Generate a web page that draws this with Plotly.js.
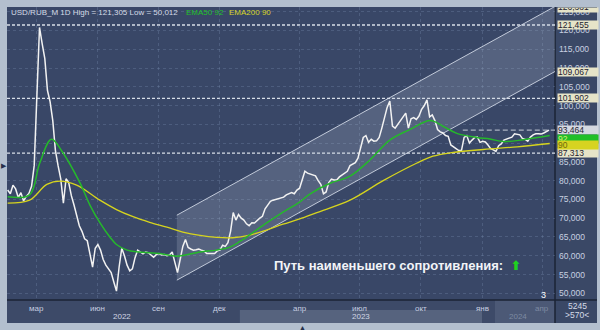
<!DOCTYPE html>
<html><head><meta charset="utf-8">
<script src="https://cdn.plot.ly/plotly-3.0.1.min.js"></script>
<style>html,body{margin:0;padding:0;background:#b3bfce;overflow:hidden}#chart{width:600px;height:330px}</style>
</head><body><div id="chart"></div>
<script>
// ---------- data ----------
const symbol = 'USD/RUB_M 1D';
const highValue = '121,305';
const lowValue = '50,012';
const priceStart = '2022-01-16';
const priceStepDays = 4;
const priceClose = [
77.5,76.5,78.8,77.8,75.5,76.8,74.6,75.8,76.6,78.5,
84.0,104.0,120.8,116.5,112.5,104.0,101.0,96.0,88.0,84.0,
80.5,74.0,80.5,79.5,76.0,73.5,71.0,68.0,66.5,64.5,
64.0,60.0,57.0,62.0,63.0,61.5,59.0,57.5,56.5,55.5,
53.0,50.6,57.0,62.0,60.0,57.5,56.0,56.5,59.5,61.5,
61.0,60.5,61.0,60.8,60.2,59.6,60.3,60.6,60.2,60.3,
60.0,60.2,61.0,58.0,55.5,59.0,62.5,64.3,62.2,61.8,
61.5,61.6,61.8,61.5,61.3,60.6,60.6,60.5,60.6,61.3,
61.5,62.8,62.5,63.5,66.5,71.5,69.5,71.0,70.0,69.5,
68.5,68.0,68.8,68.7,69.5,70.0,70.5,72.5,73.5,74.5,
74.8,75.0,75.2,75.3,75.6,76.2,76.5,76.8,76.5,77.5,
78.0,80.5,82.5,82.0,81.7,81.5,81.3,80.0,79.0,76.5,
77.0,79.5,80.4,80.2,80.2,81.0,81.5,82.0,82.5,84.0,
84.3,84.8,86.0,88.5,91.5,92.0,90.2,91.0,90.5,90.6,
91.5,94.0,97.0,99.5,101.2,94.5,94.0,95.0,96.2,97.0,
98.0,94.0,96.5,96.8,96.3,97.2,99.0,100.0,101.5,97.0,
97.5,96.0,93.6,93.0,92.7,92.0,91.8,89.5,89.0,88.3,
88.0,88.0,91.5,92.0,90.0,90.8,91.5,91.6,90.2,90.5,
90.3,89.5,88.5,88.2,87.8,89.3,89.8,90.8,91.0,91.2,
91.6,92.5,92.4,92.2,91.2,91.0,90.5,91.6,92.2,92.5,
92.5,92.4,92.7,93.0,93.464
];
const ema50Dates = ['2022-01-16','2022-02-18','2022-03-05','2022-03-23','2022-04-09','2022-05-05','2022-05-20','2022-06-04','2022-06-19','2022-06-29','2022-07-15','2022-08-03','2022-09-02','2022-09-28','2022-11-02','2022-11-27','2022-12-17','2023-01-01','2023-01-16','2023-02-11','2023-03-07','2023-04-01','2023-04-17','2023-05-17','2023-06-16','2023-07-16','2023-08-15','2023-09-14','2023-10-15','2023-11-03','2023-11-24','2023-12-24','2024-01-13','2024-02-02','2024-03-03','2024-04-12'];
const ema50Values = [75.7,76.2,84.5,91.0,87.5,79.4,73.5,68.8,65.0,63.0,61.5,61.0,60.6,59.9,61.0,61.5,62.3,63.8,65.6,68.8,71.6,74.3,76.5,79.3,81.2,85.5,90.8,93.6,96.0,94.5,92.6,91.5,91.1,90.4,90.9,92.0];
const ema200Dates = ['2022-01-16','2022-02-18','2022-03-16','2022-04-05','2022-04-30','2022-06-04','2022-06-29','2022-07-24','2022-08-18','2022-09-13','2022-10-07','2022-11-02','2022-11-27','2022-12-21','2023-01-16','2023-02-11','2023-03-07','2023-04-01','2023-04-27','2023-06-16','2023-08-05','2023-09-25','2023-10-19','2023-11-14','2024-01-03','2024-02-23','2024-04-12'];
const ema200Values = [74.0,74.8,79.0,79.9,78.8,74.8,72.3,70.4,68.9,67.6,66.3,65.4,64.9,64.8,65.5,66.9,68.4,69.8,71.5,74.8,80.0,84.7,86.5,87.4,88.3,89.0,89.9];
const channelDates = ['2022-09-28','2024-04-20'];
const channelLower = [53.5, 109.07];
const channelUpper = [70.8, 126.4];
const levelValues = [121.455, 101.902, 87.313];
const levelLabels = ['121,455','101,902','87,313'];
const channelTagValues = [126.381, 109.067];
const channelTagLabels = ['126,381','109,067'];
const lastPrice = 93.464, lastPriceLabel = '93,464', lastPriceFrom = '2023-12-03';
const ema50Last = 92, ema200Last = 90;
const monthDates = ['2022-03-01','2022-06-01','2022-09-01','2022-12-01','2023-04-01','2023-07-01','2023-10-01','2024-01-01','2024-04-01'];
const monthLabels = ['мар','июн','сен','дек','апр','июл','окт','янв','апр'];
const yearDates = ['2022-07-08','2023-07-02','2024-02-24'];
const yearLabels = ['2022','2023','2024'];
const yearBand = ['2023-01-01','2024-01-01'];
const xRange = ['2022-01-15','2024-04-20'];
const yRange = [48.216, 126.245];
const noteText = 'Путь наименьшего сопротивления:';
const barCount = '5245', zoomLabel = '>570<', stepLabel = '3';

// ---------- layout helpers (pixel -> paper) ----------
const L = 7, R = 555, T = 7, B = 300;
const fx = px => (px - L) / (R - L);
const fy = py => (B - py) / (B - T);
const FONT = 'Liberation Sans, Arial, sans-serif';
const NARROW = 'Liberation Sans Narrow, Liberation Sans, Arial, sans-serif';

const traces = [
  {x: channelDates, y: channelLower, type:'scatter', mode:'lines', line:{color:'rgba(215,222,235,0.85)', width:1}, hoverinfo:'skip'},
  {x: channelDates, y: channelUpper, type:'scatter', mode:'lines', fill:'tonexty', fillcolor:'rgba(200,208,225,0.2)', line:{color:'rgba(215,222,235,0.85)', width:1}, hoverinfo:'skip'},
  {x0: priceStart, dx: priceStepDays*86400000, y: priceClose, type:'scatter', mode:'lines', line:{color:'#f2f2f2', width:1.5}},
  {x: ema200Dates, y: ema200Values, type:'scatter', mode:'lines', line:{color:'#d6d41e', width:1.3, shape:'spline', smoothing:1}},
  {x: ema50Dates, y: ema50Values, type:'scatter', mode:'lines', line:{color:'#25b82b', width:1.5, shape:'spline', smoothing:1}}
];

const shapes = [
  {type:'rect', xref:'paper', yref:'paper', x0:1, x1:fx(597), y0:fy(323), y1:1, fillcolor:'#3a4866', line:{width:0}, layer:'below'},
  {type:'rect', xref:'paper', yref:'paper', x0:0, x1:1, y0:fy(323), y1:0, fillcolor:'#3d4a68', line:{width:0}, layer:'below'},
  {type:'rect', xref:'x', yref:'paper', x0:yearBand[0], x1:yearBand[1], y0:fy(323), y1:fy(310), fillcolor:'#56637e', line:{width:0}, layer:'below'},
  {type:'rect', xref:'paper', yref:'paper', x0:fx(495), x1:1, y0:fy(323), y1:0, fillcolor:'rgba(130,145,170,0.22)', line:{width:0}, layer:'below'},
  {type:'line', xref:'paper', yref:'paper', x0:1, x1:1, y0:fy(323), y1:1, line:{color:'#1b2335', width:1.5}, layer:'below'},
  {type:'line', xref:'paper', yref:'paper', x0:0, x1:fx(597), y0:0, y1:0, line:{color:'#1b2335', width:1.5}, layer:'below'}
];
levelValues.forEach(v => shapes.push({type:'line', xref:'paper', yref:'y', x0:0, x1:1, y0:v, y1:v, line:{color:'#d8dee8', width:1.3, dash:'3px,2px'}, layer:'below'}));
shapes.push({type:'line', xref:'x', yref:'y', x0:lastPriceFrom, x1:xRange[1], y0:lastPrice, y1:lastPrice, line:{color:'#aab2c2', width:1.3, dash:'5px,3px'}, layer:'below'});

const ann = [];
const txt = (x, y, text, opt) => ann.push(Object.assign({xref:'paper', yref:'paper', x:x, y:y, text:text, showarrow:false, xanchor:'left', yanchor:'middle', font:{family:NARROW, size:8, color:'#d5dbe6'}}, opt||{}));
txt(fx(9), fy(12.5), symbol + ' High = ' + highValue + ' Low = ' + lowValue);
txt(fx(184), fy(12.5), 'EMA50 ' + ema50Last, {font:{family:NARROW, size:8, color:'#22c02a'}});
txt(fx(227), fy(12.5), 'EMA200 ' + ema200Last, {font:{family:NARROW, size:8, color:'#d8d62a'}});
txt(fx(272), fy(265), noteText + '\u00a0\u00a0<span style="color:#1ed21e;font-family:DejaVu Sans">⬆</span>', {font:{family:FONT, size:13, color:'#f2f4f8', weight:'bold'}});

// right-side value tags
const tag = (y, text, bg, color, extra) => ann.push(Object.assign({xref:'paper', yref:'y', x:fx(557), y:y, text:text, showarrow:false, xanchor:'left', yanchor:'middle', align:'left', width:40, height:8, borderpad:0, bgcolor:bg, font:{family:NARROW, size:8.5, color:color}}, extra||{}));
tag(channelTagValues[0], channelTagLabels[0], '#e6e4c8', '#1e2230', {yref:'paper', y:1, yanchor:'top', height:4, valign:'bottom'});
tag(channelTagValues[1], channelTagLabels[1], '#e6e4c8', '#1e2230');
levelValues.forEach((v, i) => tag(v, levelLabels[i], '#e6e4c8', '#1e2230'));
tag(lastPrice, lastPriceLabel, '#d4d8e0', '#1e2230');
tag(ema50Last, String(ema50Last), '#20bf28', '#d6ee7a', {yshift:-3});
tag(ema200Last, String(ema200Last), '#d7d321', '#6e6a10', {yshift:-2});

// bottom axis labels
monthDates.forEach((d, i) => ann.push({xref:'x', yref:'paper', x:d, y:fy(308), text:monthLabels[i], showarrow:false, xanchor:'center', yanchor:'middle', font:{family:NARROW, size:8, color: i === monthDates.length-1 ? '#7d8aa2' : '#c5cde0'}}));
yearDates.forEach((d, i) => ann.push({xref:'x', yref:'paper', x:d, y:fy(316), text:yearLabels[i], showarrow:false, xanchor:'center', yanchor:'middle', font:{family:NARROW, size:8, color: i === yearDates.length-1 ? '#7d8aa2' : '#d0d6e4'}}));
txt(fx(577), fy(306), barCount, {xanchor:'center', font:{family:NARROW, size:8.5, color:'#d5dbe6'}});
txt(fx(577), fy(314.5), zoomLabel, {xanchor:'center', font:{family:NARROW, size:8.5, color:'#d5dbe6'}});
txt(fx(543), fy(295), stepLabel, {xanchor:'center', font:{family:FONT, size:9, color:'#ffffff'}});
txt(fx(3.5), fy(165), '▶', {xanchor:'center', font:{family:FONT, size:7, color:'#26304a'}});
txt(fx(302), fy(327), '▲', {xanchor:'center', font:{family:FONT, size:7, color:'#26304a'}});

const layout = {
  width:600, height:330,
  margin:{l:L, r:600-R, t:T, b:330-B, pad:0},
  paper_bgcolor:'#b3bfce', plot_bgcolor:'#394767',
  separators:',.',
  showlegend:false,
  xaxis:{type:'date', range:xRange, tickvals:monthDates, showticklabels:false, ticks:'', showgrid:true, gridcolor:'rgba(125,145,180,0.3)', griddash:'dot', gridwidth:1, zeroline:false, showline:false, fixedrange:true},
  yaxis:{side:'right', range:yRange, tick0:50, dtick:5, tickformat:'.3f', ticks:'', ticklabelstandoff:3, tickfont:{family:NARROW, size:8.5, color:'#c8d0e0'}, showgrid:true, gridcolor:'rgba(125,145,180,0.3)', griddash:'dot', gridwidth:1, zeroline:false, showline:false, fixedrange:true},
  shapes:shapes,
  annotations:ann
};
Plotly.newPlot('chart', traces, layout, {displayModeBar:false, staticPlot:true});
</script>
</body></html>
